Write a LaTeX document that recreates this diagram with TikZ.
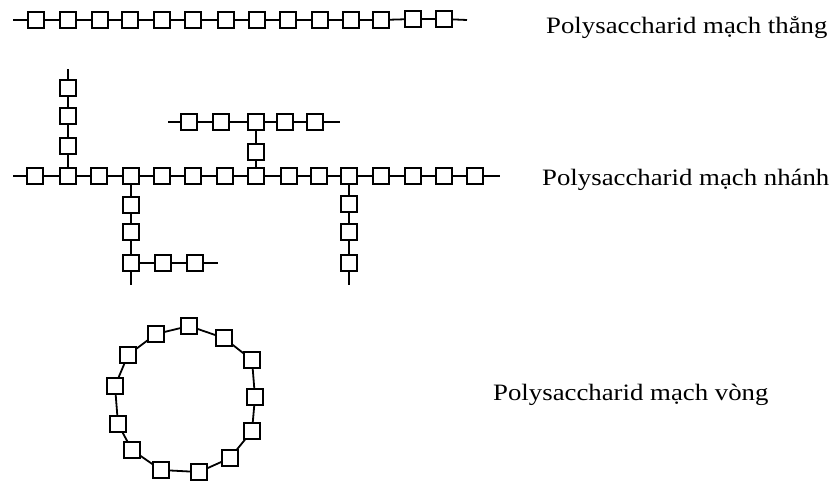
\documentclass[tikz,border=0pt]{standalone}
\usepackage{fontspec}
\newfontfamily\lblfont[FakeStretch=1.14]{Liberation Serif}
\begin{document}
\begin{tikzpicture}[x=1pt,y=-1pt,
  sq/.style={draw,line width=1.8pt,fill=white,minimum size=16pt,inner sep=0pt,outer sep=0pt},
  bond/.style={line width=1.8pt},
  lbl/.style={anchor=base west,inner sep=0pt,font=\lblfont\fontsize{23.5}{28}\selectfont}]
\useasboundingbox (0,0) rectangle (838,480);
% ---------- straight chain ----------
\coordinate (tL) at (13,20);
\coordinate (tR) at (467,20);
\foreach \i/\x/\y in {1/36/20,2/68/20,3/100/20,4/130/20,5/162/20,6/193/20,7/226/20,8/257/20,9/288/20,10/320/20,11/351/20,12/381/20,13/413/19,14/444/19}
  \node[sq] (t\i) at (\x,\y) {};
\draw[bond] (tL) -- (t1) -- (t2) -- (t3) -- (t4) -- (t5) -- (t6) -- (t7) -- (t8) -- (t9) -- (t10) -- (t11) -- (t12) -- (t13) -- (t14) -- (tR);
\node[lbl] (l1) at (546,33) {Polysaccharid mạch thẳng};
% ---------- branched chain ----------
\foreach \i/\x in {1/35,2/68,3/99,4/131,5/162,6/193,7/225,8/256,9/289,10/319,11/349,12/381,13/413,14/444,15/475}
  \node[sq] (m\i) at (\x,176) {};
\coordinate (mL) at (13,176);
\coordinate (mR) at (500,176);
\draw[bond] (mL) -- (m1) -- (m2) -- (m3) -- (m4) -- (m5) -- (m6) -- (m7) -- (m8) -- (m9) -- (m10) -- (m11) -- (m12) -- (m13) -- (m14) -- (m15) -- (mR);
% up branch
\node[sq] (u1) at (68,146) {};
\node[sq] (u2) at (68,116) {};
\node[sq] (u3) at (68,88) {};
\coordinate (uT) at (68,69);
\draw[bond] (m2) -- (u1) -- (u2) -- (u3) -- (uT);
% down branch left
\node[sq] (d1) at (131,205) {};
\node[sq] (d2) at (131,232) {};
\node[sq] (d3) at (131,263) {};
\coordinate (dB) at (131,285);
\node[sq] (h1) at (163,263) {};
\node[sq] (h2) at (195,263) {};
\coordinate (hR) at (218,263);
\draw[bond] (m4) -- (d1) -- (d2) -- (d3) -- (dB);
\draw[bond] (d3) -- (h1) -- (h2) -- (hR);
% upper branch
\node[sq] (v1) at (256,152) {};
\foreach \i/\x in {1/189,2/221,3/256,4/285,5/315}
  \node[sq] (r\i) at (\x,122) {};
\coordinate (rL) at (168,122);
\coordinate (rR) at (340,122);
\draw[bond] (rL) -- (r1) -- (r2) -- (r3) -- (r4) -- (r5) -- (rR);
\draw[bond] (r3) -- (v1) -- (m8);
% down branch right
\node[sq] (e1) at (349,204) {};
\node[sq] (e2) at (349,232) {};
\node[sq] (e3) at (349,263) {};
\coordinate (eB) at (349,285);
\draw[bond] (m11) -- (e1) -- (e2) -- (e3) -- (eB);
\node[lbl] (l2) at (542,185) {Polysaccharid mạch nhánh};
% ---------- ring ----------
\foreach \i/\x/\y in {1/189/326,2/224/338,3/252/360,4/255/397,5/252/431,6/230/458,7/199/472,8/161/470,9/132/450,10/118/424,11/115/386,12/128/355,13/156/334}
  \node[sq] (c\i) at (\x,\y) {};
\draw[bond] (c1) -- (c2) -- (c3) -- (c4) -- (c5) -- (c6) -- (c7) -- (c8) -- (c9) -- (c10) -- (c11) -- (c12) -- (c13) -- (c1);
\node[lbl] (l3) at (493,400) {Polysaccharid mạch vòng};
\end{tikzpicture}
\end{document}
